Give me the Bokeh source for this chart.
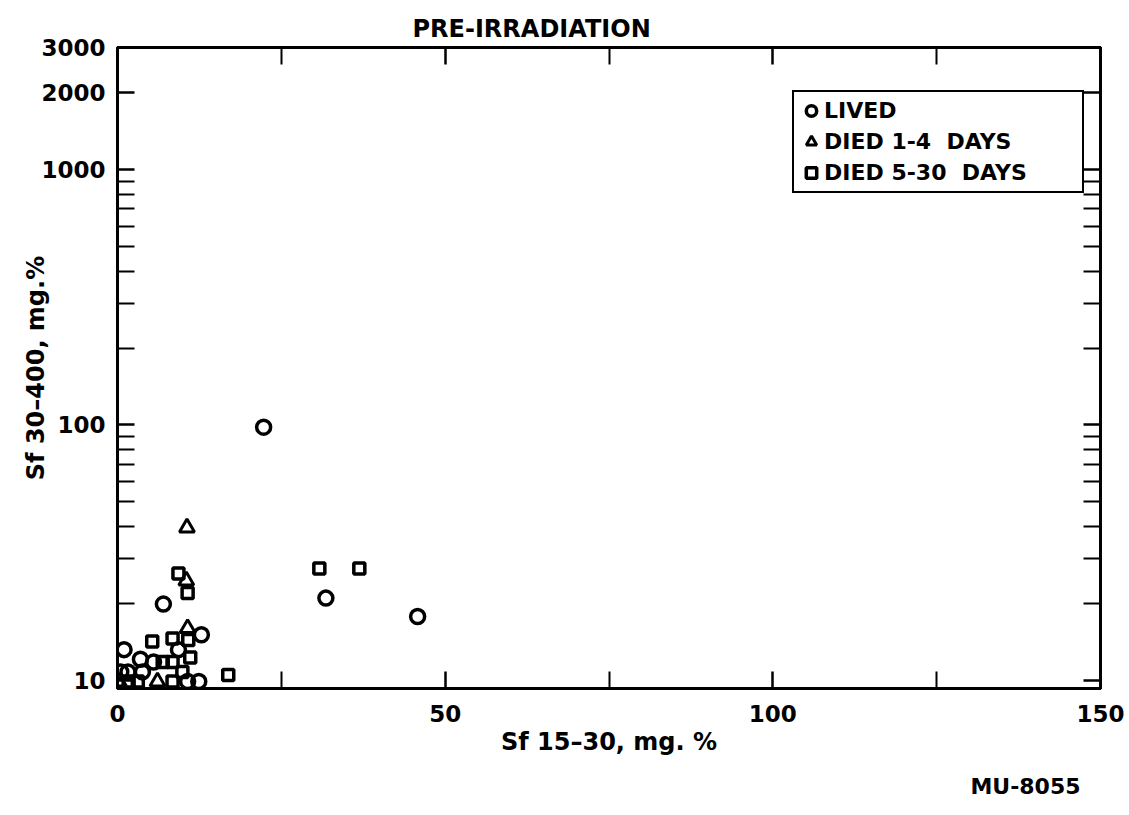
from bokeh.plotting import figure
from bokeh.models import FixedTicker, LinearAxis, LogAxis, PrintfTickFormatter, Title
from bokeh.embed import file_html
from bokeh.resources import INLINE

# ---------------- data ----------------
lived_x = [22.3, 31.8, 45.8, 7.0, 12.8, 9.3, 1.0, 3.5, 5.5, 0.5, 1.6, 3.8, 10.7, 12.4]
lived_y = [98, 21.0, 17.8, 19.9, 15.1, 13.2, 13.2, 12.1, 11.8, 10.8, 10.8, 10.8, 9.9, 9.9]

died14_x = [10.6, 10.5, 10.7, 0.2, 6.1]
died14_y = [39.6, 24.6, 16.0, 9.9, 9.9]

died530_x = [9.3, 10.7, 5.3, 8.4, 10.8, 11.1, 6.9, 8.4, 9.9, 1.7, 3.1, 8.4, 16.9, 30.8, 36.9]
died530_y = [26.2, 22.0, 14.2, 14.6, 14.4, 12.3, 11.8, 11.8, 10.8, 9.9, 9.9, 9.9, 10.5, 27.4, 27.4]

x_major = [0, 50, 100, 150]
x_minor = [25, 75, 125]
y_major = [10, 100, 1000, 2000, 3000]
y_minor = [20, 30, 40, 50, 60, 70, 80, 90, 200, 300, 400, 500, 600, 700, 800, 900]

FONT = "DejaVu Sans"

p = figure(width=1129, height=815, x_range=(0, 150), y_range=(9.3, 3000),
           y_axis_type="log", output_backend="svg", toolbar_location=None,
           min_border_left=117, min_border_right=29, min_border_top=47,
           min_border_bottom=127, background_fill_color="white",
           border_fill_color="white")
p.grid.visible = False
p.outline_line_color = "black"
p.outline_line_width = 3

p.title.text = "PRE-IRRADIATION"
p.title.align = "left"
p.title.offset = 295
p.title.text_font = FONT
p.title.text_font_size = "24px"
p.title.text_font_style = "bold"
p.title.text_color = "black"


def style_axis(ax, labels=True):
    ax.axis_line_width = 3
    ax.axis_line_color = "black"
    ax.major_tick_in = 17
    ax.major_tick_out = 0
    ax.minor_tick_in = 17
    ax.minor_tick_out = 0
    ax.major_tick_line_width = 2.5
    ax.minor_tick_line_width = 2
    ax.major_tick_line_color = "black"
    ax.minor_tick_line_color = "black"
    ax.major_label_text_font = FONT
    ax.major_label_text_font_style = "bold"
    if labels:
        ax.major_label_text_color = "black"
        ax.major_label_text_font_size = "23px"
    else:
        ax.major_label_text_color = None
        ax.major_label_text_font_size = "2px"
        ax.major_label_standoff = 0
    ax.axis_label_text_font = FONT
    ax.axis_label_text_font_style = "bold"
    ax.axis_label_text_font_size = "24px"
    ax.axis_label_text_color = "black"


p.xaxis.ticker = FixedTicker(ticks=x_major, minor_ticks=x_minor)
p.yaxis.ticker = FixedTicker(ticks=y_major, minor_ticks=y_minor)
p.yaxis.formatter = PrintfTickFormatter(format="%d")
for ax in p.xaxis:
    style_axis(ax)
    ax.major_label_standoff = 16
    ax.axis_label = "Sf 15\u201330, mg. %"
    ax.axis_label_standoff = 3
for ax in p.yaxis:
    style_axis(ax)
    ax.major_label_standoff = 12
    ax.axis_label = "Sf 30\u2013400, mg.%"
    ax.axis_label_standoff = -12

top = LinearAxis(ticker=FixedTicker(ticks=x_major, minor_ticks=x_minor))
style_axis(top, labels=False)
p.add_layout(top, "above")
right = LogAxis(ticker=FixedTicker(ticks=y_major, minor_ticks=y_minor))
style_axis(right, labels=False)
p.add_layout(right, "right")

# ---------------- markers ----------------
p.scatter(lived_x, lived_y, marker="circle", size=14, line_color="black",
          line_width=3.5, fill_alpha=0, legend_label="LIVED")
p.scatter(died14_x, died14_y, marker="triangle", size=15, line_color="black",
          line_width=3, fill_alpha=0, legend_label="DIED 1-4  DAYS")
p.scatter(died530_x, died530_y, marker="square", size=11, line_color="black",
          line_width=3.5, fill_alpha=0, legend_label="DIED 5-30  DAYS")

lg = p.legend[0]
lg.location = (675, 495)
lg.border_line_color = "black"
lg.border_line_alpha = 1
lg.border_line_width = 2
lg.background_fill_color = "white"
lg.background_fill_alpha = 1
lg.label_text_font = FONT
lg.label_text_font_style = "bold"
lg.label_text_font_size = "22px"
lg.label_text_color = "black"
lg.label_height = 29
lg.glyph_height = 29
lg.glyph_width = 26
lg.label_width = 254
lg.label_standoff = 0
lg.spacing = 2
lg.padding = 4
lg.margin = 0

# figure code below the chart
code = Title(text="MU-8055", align="right", offset=20, text_font=FONT,
             text_font_style="bold", text_font_size="22px", text_color="black",
             standoff=26)
p.add_layout(code, "below")

open("out.html", "w").write(file_html(p, INLINE))
